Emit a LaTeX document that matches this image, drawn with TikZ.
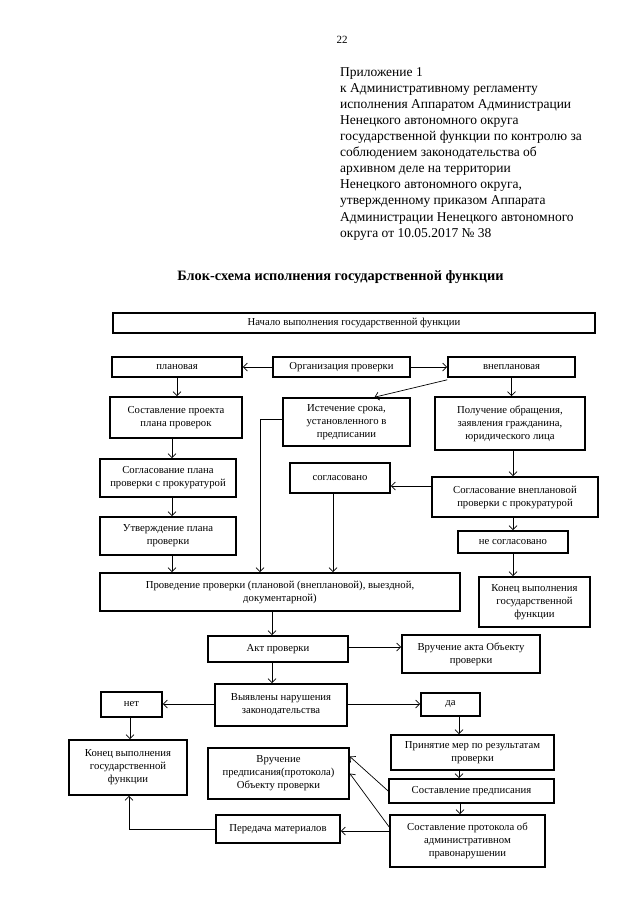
\documentclass[tikz,border=0pt]{standalone}
\usepackage{fontspec}
\setmainfont{Liberation Serif}
\usetikzlibrary{arrows.meta}
\begin{document}
\begin{tikzpicture}[x=1pt,y=-1pt,
  box/.style={draw, line width=1.6pt, align=center, inner sep=1pt, font=\fontsize{10.7}{13}\selectfont},
  arr/.style={line width=0.7pt, -{Straight Barb[length=4pt,width=8pt]}},
  plain/.style={line width=0.7pt}]
\useasboundingbox (0,0) rectangle (640,905);
% header
\node[font=\fontsize{11}{13}\selectfont] (pagenum) at (342,40) {22};
\node[anchor=north west, inner sep=0pt, align=left, font=\fontsize{13.5}{16.1}\selectfont] (header) at (340,67)
{Приложение 1\\
к Административному регламенту\\
исполнения Аппаратом Администрации\\
Ненецкого автономного округа\\
государственной функции по контролю за\\
соблюдением законодательства об\\
архивном деле на территории\\
Ненецкого автономного округа,\\
утвержденному приказом Аппарата\\
Администрации Ненецкого автономного\\
округа от 10.05.2017 № 38};
\node[font=\fontsize{14.3}{16}\selectfont\bfseries] (title) at (340.5,277) {Блок-схема исполнения государственной функции};
% boxes
\node[box, minimum width=482, minimum height=20] (start) at (354,323) {Начало выполнения государственной функции};
\node[box, minimum width=130, minimum height=20] (plan) at (177,367) {плановая};
\node[box, minimum width=137, minimum height=20] (org) at (341.5,367) {Организация проверки};
\node[box, minimum width=127, minimum height=20] (unplan) at (511.5,367) {внеплановая};
\node[box, minimum width=132, minimum height=41] (sost) at (176,417.5) {Составление проекта\\плана проверок};
\node[box, minimum width=127, minimum height=48] (ist) at (346.5,422) {Истечение срока,\\установленного в\\предписании};
\node[box, minimum width=150, minimum height=53] (poluch) at (510,423.5) {Получение обращения,\\заявления гражданина,\\юридического лица};
\node[box, minimum width=136, minimum height=38] (soglplan) at (168,478) {Согласование плана\\проверки с прокуратурой};
\node[box, minimum width=100, minimum height=30] (soglasovano) at (340,478) {согласовано};
\node[box, minimum width=166, minimum height=40] (soglunplan) at (515,497) {Согласование внеплановой\\проверки с прокуратурой};
\node[box, minimum width=136, minimum height=38] (utv) at (168,536) {Утверждение плана\\проверки};
\node[box, minimum width=110, minimum height=22] (nesogl) at (513,542) {не согласовано};
\node[box, minimum width=360, minimum height=38] (prov) at (280,592) {Проведение проверки (плановой (внеплановой), выездной,\\документарной)};
\node[box, minimum width=111, minimum height=50] (endR) at (534.5,602) {Конец выполнения\\государственной\\функции};
\node[box, minimum width=140, minimum height=26] (akt) at (278,649) {Акт проверки};
\node[box, minimum width=138, minimum height=38] (vruchakt) at (471,654) {Вручение акта Объекту\\проверки};
\node[box, minimum width=132, minimum height=42] (vyyav) at (281,705) {Выявлены нарушения\\законодательства};
\node[box, minimum width=61, minimum height=25] (net) at (131.5,704.5) {нет};
\node[box, minimum width=59, minimum height=23] (da) at (450.5,704.5) {да};
\node[box, minimum width=118, minimum height=55] (endL) at (128,767.5) {Конец выполнения\\государственной\\функции};
\node[box, minimum width=141, minimum height=51] (vruchpr) at (278.5,773.5) {Вручение\\предписания(протокола)\\Объекту проверки};
\node[box, minimum width=163, minimum height=35] (prin) at (472.5,752.5) {Принятие мер по результатам\\проверки};
\node[box, minimum width=165, minimum height=24] (sostpr) at (471.5,791) {Составление предписания};
\node[box, minimum width=124, minimum height=28] (peredacha) at (278,829) {Передача материалов};
\node[box, minimum width=155, minimum height=52] (protokol) at (467.5,841) {Составление протокола об\\административном\\правонарушении};
% connectors
\draw[arr] (org.west) -- (plan.east);
\draw[arr] (org.east) -- (unplan.west);
\draw[arr] (plan.south) -- (plan.south |- sost.north);
\draw[arr] ([yshift=-2pt]unplan.south west) -- ([xshift=28pt]ist.north);
\draw[arr] (unplan.south) -- (unplan.south |- poluch.north);
\draw[arr] (sost.south -| 172,0) -- (soglplan.north -| 172,0);
\draw[arr] (soglplan.south -| 172,0) -- (utv.north -| 172,0);
\draw[arr] (utv.south -| 172,0) -- (prov.north -| 172,0);
\draw[arr] ([yshift=3pt]ist.west) -- ([yshift=3pt]ist.west -| 260,0) -- (prov.north -| 260,0);
\draw[arr] (soglasovano.south -| 333,0) -- (prov.north -| 333,0);
\draw[arr] (soglunplan.west |- 0,486) -- (soglasovano.east |- 0,486);
\draw[arr] (poluch.south -| 513,0) -- (soglunplan.north -| 513,0);
\draw[arr] (soglunplan.south -| 513,0) -- (nesogl.north -| 513,0);
\draw[arr] (nesogl.south -| 513,0) -- (endR.north -| 513,0);
\draw[arr] (prov.south -| 272,0) -- (akt.north -| 272,0);
\draw[arr] (akt.east |- 0,647) -- (vruchakt.west |- 0,647);
\draw[arr] (akt.south -| 272,0) -- (vyyav.north -| 272,0);
\draw[arr] (vyyav.west |- 0,704) -- (net.east |- 0,704);
\draw[arr] (vyyav.east |- 0,704) -- (da.west |- 0,704);
\draw[arr] (net.south -| 130,0) -- (endL.north -| 130,0);
\draw[arr] (da.south -| 459,0) -- (prin.north -| 459,0);
\draw[arr] (prin.south -| 459,0) -- (sostpr.north -| 459,0);
\draw[arr] (sostpr.south -| 460,0) -- (protokol.north -| 460,0);
\draw[arr] (sostpr.west) -- ([yshift=17pt]vruchpr.east);
\draw[arr] (protokol.west |- 0,827) -- ([yshift=0pt]vruchpr.east);
\draw[arr] (protokol.west |- 0,831) -- (peredacha.east |- 0,831);
\draw[arr] (peredacha.west) -- (peredacha.west -| 129,0) -- (endL.south -| 129,0);
\end{tikzpicture}
\end{document}
